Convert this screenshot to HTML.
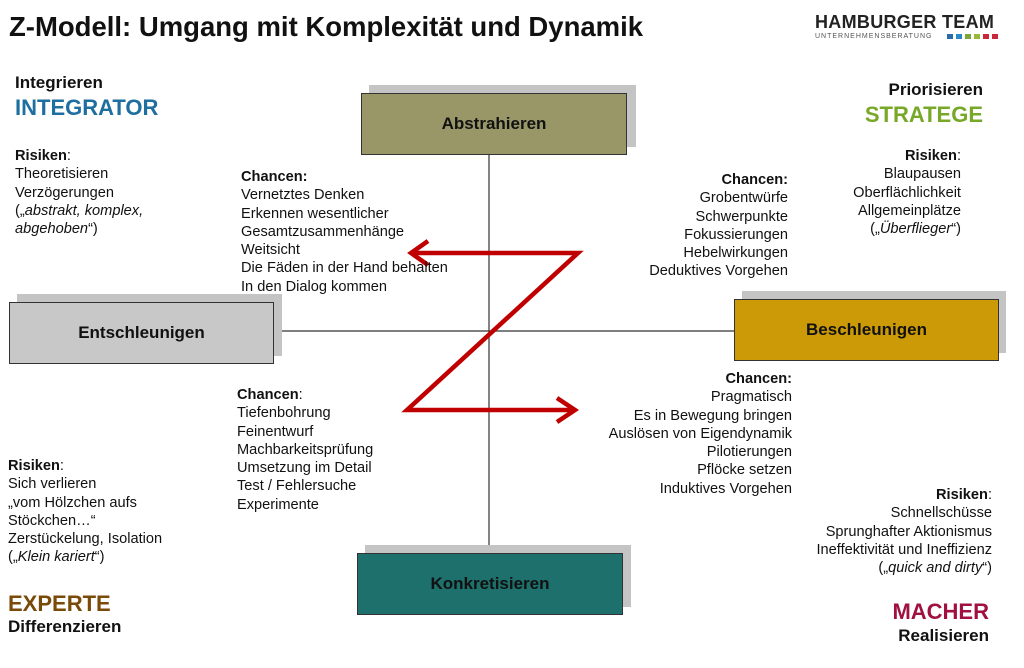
<!DOCTYPE html>
<html><head><meta charset="utf-8"><style>
body{margin:0;width:1024px;height:668px;background:#fff;position:relative;font-family:"Liberation Sans",Arial,sans-serif;color:#111;overflow:hidden}
.a{position:absolute;white-space:nowrap}
.t{font-size:14.6px;line-height:18.3px}
.r{text-align:right}
.box{position:absolute;border:1.5px solid #333;font-weight:bold;font-size:17px;display:flex;align-items:center;justify-content:center;box-sizing:border-box}
.sh{position:absolute;background:#c4c4c4}
.h{font-weight:bold;font-size:17px}
.big{font-weight:bold;font-size:22px}
</style></head><body>
<div class="a" style="left:9px;top:11px;font-size:27.5px;font-weight:bold">Z-Modell: Umgang mit Komplexität und Dynamik</div>
<div class="a" style="left:815px;top:12px;font-size:18px;letter-spacing:0.3px;color:#222;font-weight:bold">HAMBURGER TEAM</div>
<div class="a" style="left:815px;top:33px;font-size:7px;letter-spacing:1px;color:#555">UNTERNEHMENSBERATUNG</div>
<div class="a" style="left:947px;top:34px;width:6px;height:5px;background:#2a6aa8"></div>
<div class="a" style="left:956px;top:34px;width:6px;height:5px;background:#2a8ac8"></div>
<div class="a" style="left:965px;top:34px;width:6px;height:5px;background:#7aa83a"></div>
<div class="a" style="left:974px;top:34px;width:6px;height:5px;background:#9ab83a"></div>
<div class="a" style="left:983px;top:34px;width:6px;height:5px;background:#c8283a"></div>
<div class="a" style="left:992px;top:34px;width:6px;height:5px;background:#c8283a"></div>

<svg class="a" style="left:0;top:0" width="1024" height="668">
<line x1="489" y1="155" x2="489" y2="553" stroke="#333" stroke-width="1.2"/>
<line x1="273" y1="331" x2="734" y2="331" stroke="#333" stroke-width="1.2"/>
</svg>

<div class="sh" style="left:369px;top:85px;width:267px;height:62px"></div>
<div class="box" style="left:361px;top:93px;width:266px;height:62px;background:#999768">Abstrahieren</div>
<div class="sh" style="left:17px;top:294px;width:265px;height:62px"></div>
<div class="box" style="left:9px;top:302px;width:265px;height:62px;background:#c8c8c8">Entschleunigen</div>
<div class="sh" style="left:742px;top:291px;width:264px;height:62px"></div>
<div class="box" style="left:734px;top:299px;width:265px;height:62px;background:#cc9a06">Beschleunigen</div>
<div class="sh" style="left:365px;top:545px;width:266px;height:62px"></div>
<div class="box" style="left:357px;top:553px;width:266px;height:62px;background:#1d706c">Konkretisieren</div>

<svg class="a" style="left:0;top:0" width="1024" height="668">
<g fill="none" stroke="#c00000" stroke-width="4.5" stroke-linejoin="miter">
<polyline points="411,253 578,253 407,410 575,410"/>
<polyline points="428,241 411,253 428,265"/>
<polyline points="557,398 575,410 557,422"/>
</g></svg>

<div class="a h" style="left:15px;top:73px">Integrieren</div>
<div class="a big" style="left:15px;top:95px;color:#1f6ea0">INTEGRATOR</div>
<div class="a t" style="left:15px;top:147px"><b>Risiken</b>:<br>Theoretisieren<br>Verzögerungen<br>(„<i>abstrakt, komplex,<br>abgehoben</i>“)</div>

<div class="a h" style="right:41px;top:80px">Priorisieren</div>
<div class="a big" style="right:41px;top:102px;color:#78a828">STRATEGE</div>
<div class="a t r" style="right:63px;top:147px"><b>Risiken</b>:<br>Blaupausen<br>Oberflächlichkeit<br>Allgemeinplätze<br>(„<i>Überflieger</i>“)</div>

<div class="a t" style="left:241px;top:168px"><b>Chancen:</b><br>Vernetztes Denken<br>Erkennen wesentlicher<br>Gesamtzusammenhänge<br>Weitsicht<br>Die Fäden in der Hand behalten<br>In den Dialog kommen</div>
<div class="a t r" style="right:236px;top:171px"><b>Chancen:</b><br>Grobentwürfe<br>Schwerpunkte<br>Fokussierungen<br>Hebelwirkungen<br>Deduktives Vorgehen</div>
<div class="a t" style="left:237px;top:386px"><b>Chancen</b>:<br>Tiefenbohrung<br>Feinentwurf<br>Machbarkeitsprüfung<br>Umsetzung im Detail<br>Test / Fehlersuche<br>Experimente</div>
<div class="a t r" style="right:232px;top:370px"><b>Chancen:</b><br>Pragmatisch<br>Es in Bewegung bringen<br>Auslösen von Eigendynamik<br>Pilotierungen<br>Pflöcke setzen<br>Induktives Vorgehen</div>

<div class="a t" style="left:8px;top:457px"><b>Risiken</b>:<br>Sich verlieren<br>„vom Hölzchen aufs<br>Stöckchen…“<br>Zerstückelung, Isolation<br>(„<i>Klein kariert</i>“)</div>
<div class="a big" style="left:8px;top:591px;color:#7a4a08">EXPERTE</div>
<div class="a h" style="left:8px;top:617px">Differenzieren</div>

<div class="a t r" style="right:32px;top:486px"><b>Risiken</b>:<br>Schnellschüsse<br>Sprunghafter Aktionismus<br>Ineffektivität und Ineffizienz<br>(„<i>quick and dirty</i>“)</div>
<div class="a big r" style="right:35px;top:599px;color:#a01040">MACHER</div>
<div class="a h r" style="right:35px;top:626px">Realisieren</div>
</body></html>
